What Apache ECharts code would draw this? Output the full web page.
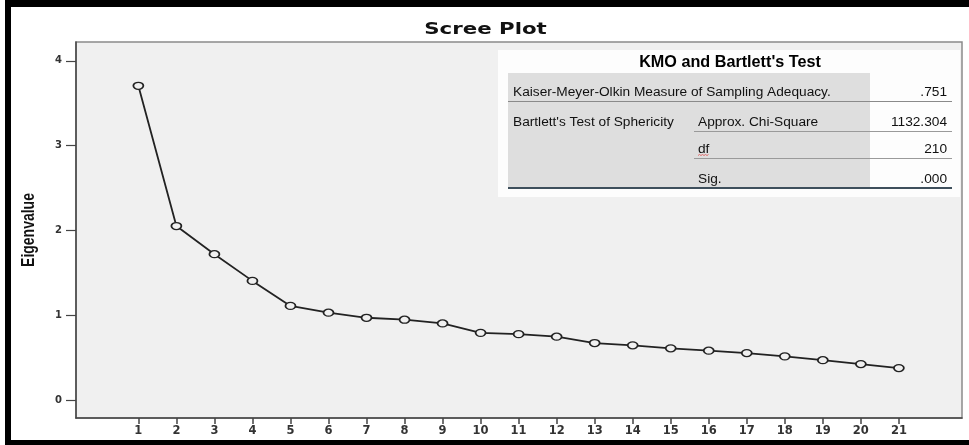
<!DOCTYPE html>
<html>
<head>
<meta charset="utf-8">
<script src="https://cdn.jsdelivr.net/npm/echarts@6/dist/echarts.min.js"></script>
<style>
  html, body { margin: 0; padding: 0; background: #ffffff; }
  #chart { width: 969px; height: 445px; }
</style>
</head>
<body>
<div id="chart"></div>
<script>
// Component numbers and their eigenvalues (scree plot)
const components = [1, 2, 3, 4, 5, 6, 7, 8, 9, 10, 11, 12, 13, 14, 15, 16, 17, 18, 19, 20, 21];
const eigenvalues = [3.706, 2.052, 1.720, 1.405, 1.110, 1.030, 0.970, 0.947, 0.903, 0.792, 0.777, 0.747,
  0.672, 0.645, 0.610, 0.582, 0.554, 0.515, 0.470, 0.424, 0.377];
const yTicks = [0, 1, 2, 3, 4];

// KMO and Bartlett's test table contents
const tableTitle = "KMO and Bartlett's Test";
const rowLabels = ["Kaiser-Meyer-Olkin Measure of Sampling Adequacy.", "Bartlett's Test of Sphericity", "", ""];
const rowSubLabels = ["", "Approx. Chi-Square", "df", "Sig."];
const rowValues = [".751", "1132.304", "210", ".000"];

const chart = echarts.init(document.getElementById('chart'), null, { renderer: 'canvas' });

const points = components.map((c, i) => [c, eigenvalues[i]]);

// Table geometry
const tbl = { x: 498, y: 50, w: 462, h: 147, grayX: 508, grayY: 73, grayW: 362, grayH: 114, lineEnd: 952, valRight: 947 };
const rowY = [92, 122, 149.5, 179];
const tableFont = 'Liberation Sans, Arial, sans-serif';
const cellFont = '13.7px ' + tableFont;

const graphic = [
  // outer frame
  { type: 'rect', shape: { x: 5, y: 0, width: 6, height: 445 }, style: { fill: '#000' }, z: 100 },
  { type: 'rect', shape: { x: 5, y: 0, width: 964, height: 7 }, style: { fill: '#000' }, z: 100 },
  { type: 'rect', shape: { x: 5, y: 440, width: 964, height: 5 }, style: { fill: '#000' }, z: 100 },
  // chart title
  { type: 'text', x: 485.5, y: 30.5, scaleX: 1.42, z: 100,
    style: { text: 'Scree Plot', font: 'bold 15px "DejaVu Sans", sans-serif', fill: '#111', align: 'center', verticalAlign: 'middle' } },
  // y axis title
  { type: 'text', x: 29.5, y: 230, rotation: Math.PI / 2, scaleY: 1.25, z: 100,
    style: { text: 'Eigenvalue', font: 'bold 14px "Liberation Sans", Arial, sans-serif', fill: '#111', align: 'center', verticalAlign: 'middle' } },
  // table box
  { type: 'rect', shape: { x: tbl.x, y: tbl.y, width: tbl.w, height: tbl.h }, style: { fill: '#fdfdfd' }, z: 50 },
  { type: 'rect', shape: { x: tbl.grayX, y: tbl.grayY, width: tbl.grayW, height: tbl.grayH }, style: { fill: '#dedede' }, z: 51 },
  { type: 'text', x: 730, y: 62.5, z: 52,
    style: { text: tableTitle, font: 'bold 16.2px ' + tableFont, fill: '#000', align: 'center', verticalAlign: 'middle' } },
  // row rules
  { type: 'line', shape: { x1: tbl.grayX, y1: 101.5, x2: tbl.lineEnd, y2: 101.5 }, style: { stroke: '#8a8a8a', lineWidth: 1 }, z: 52 },
  { type: 'line', shape: { x1: 694, y1: 131.5, x2: tbl.lineEnd, y2: 131.5 }, style: { stroke: '#9a9a9a', lineWidth: 1 }, z: 52 },
  { type: 'line', shape: { x1: 694, y1: 158.5, x2: tbl.lineEnd, y2: 158.5 }, style: { stroke: '#9a9a9a', lineWidth: 1 }, z: 52 },
  { type: 'line', shape: { x1: tbl.grayX, y1: 188, x2: tbl.lineEnd, y2: 188 }, style: { stroke: '#3e4f5c', lineWidth: 2 }, z: 52 },
  // spell-check squiggle under "df"
  { type: 'polyline', z: 53,
    shape: { points: [[698, 155.5], [699.5, 154.5], [701, 155.5], [702.5, 154.5], [704, 155.5], [705.5, 154.5], [707, 155.5], [708.5, 154.5]] },
    style: { stroke: '#e05050', lineWidth: 0.8, fill: null } }
];

rowLabels.forEach((t, i) => {
  if (t) graphic.push({ type: 'text', x: 513, y: rowY[i], z: 52,
    style: { text: t, font: cellFont, fill: '#111', align: 'left', verticalAlign: 'middle' } });
});
rowSubLabels.forEach((t, i) => {
  if (t) graphic.push({ type: 'text', x: 698, y: rowY[i], z: 52,
    style: { text: t, font: cellFont, fill: '#111', align: 'left', verticalAlign: 'middle' } });
});
rowValues.forEach((t, i) => {
  graphic.push({ type: 'text', x: tbl.valRight, y: rowY[i], z: 52,
    style: { text: t, font: cellFont, fill: '#111', align: 'right', verticalAlign: 'middle' } });
});

chart.setOption({
  animation: false,
  backgroundColor: '#ffffff',
  grid: {
    left: 76, top: 42, right: 7, bottom: 27,
    show: true, backgroundColor: '#f0f0f0', borderColor: '#8a8a8a', borderWidth: 1.5
  },
  xAxis: {
    type: 'value',
    min: -0.64, max: 22.66,
    splitLine: { show: false },
    axisLine: { show: true, onZero: false, lineStyle: { color: '#444', width: 1.5 } },
    axisTick: { show: true, length: 6, customValues: components, lineStyle: { color: '#444', width: 1.5 } },
    axisLabel: { customValues: components, margin: 7, color: '#333',
      fontFamily: 'DejaVu Sans', fontSize: 11.5, fontWeight: 'bold' }
  },
  yAxis: {
    type: 'value',
    min: -0.212, max: 4.222,
    splitLine: { show: false },
    axisLine: { show: true, onZero: false, lineStyle: { color: '#444', width: 1.5 } },
    axisTick: { show: true, length: 10, customValues: yTicks, lineStyle: { color: '#444', width: 1.2 } },
    axisLabel: { customValues: yTicks, margin: 14, color: '#333',
      fontFamily: 'DejaVu Sans', fontSize: 10, fontWeight: 'bold' }
  },
  series: [{
    type: 'line',
    data: points,
    symbol: 'circle',
    symbolSize: [10, 7],
    showSymbol: true,
    lineStyle: { color: '#222', width: 1.8 },
    itemStyle: { color: '#f0f0f0', borderColor: '#222', borderWidth: 1.5 },
    z: 3
  }],
  graphic: graphic
});
</script>
</body>
</html>
